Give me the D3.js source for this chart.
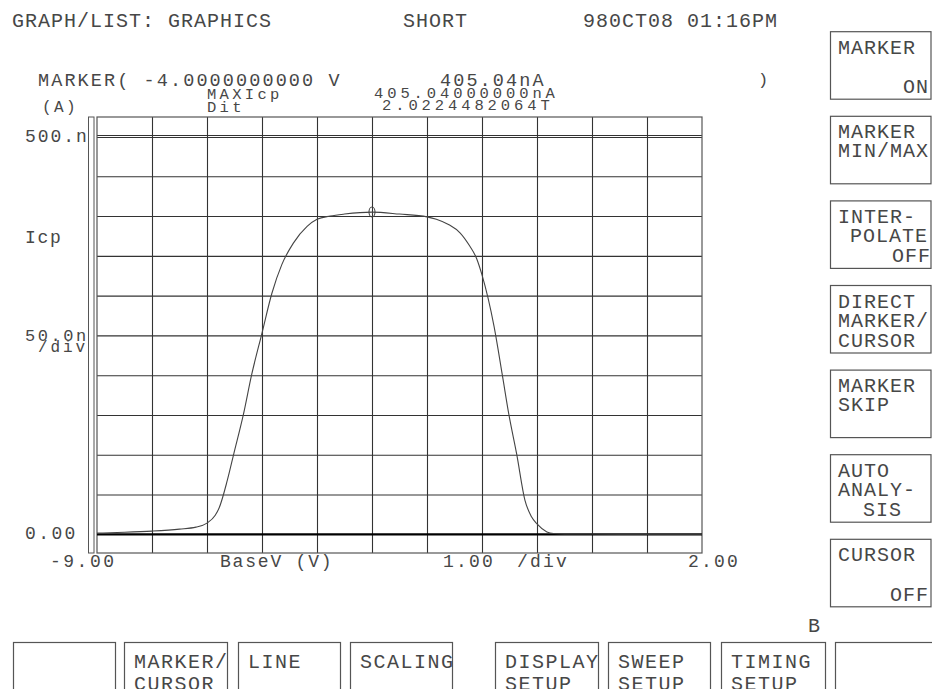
<!DOCTYPE html>
<html><head><meta charset="utf-8">
<script src="https://cdn.jsdelivr.net/npm/d3@7"></script>
<style>
body{margin:0;background:#fff}
svg{display:block}
text{font-family:"Liberation Mono","DejaVu Sans Mono",monospace;fill:#474747}
</style>
</head><body>
<svg id="c" width="932" height="689"></svg>
<script>
// ---- data ----
const baseV = [-9.0,-8.5,-8.0,-7.5,-7.2,-7.0,-6.85,-6.78,-6.63,-6.51,-6.34,-6.19,-6.0,-5.82,-5.64,-5.43,-5.18,-5.0,-4.76,-4.5,-4.0,-3.5,-3.0,-2.83,-2.6,-2.4,-2.22,-2.1,-2.0,-1.78,-1.63,-1.51,-1.37,-1.22,-1.1,-1.0,-0.82,-0.7,-0.5,0.0,1.0,2.0];
const icpNA = [1.5,2.5,4,6.5,9,14,24,33,68,102,150,200,253,303,339,366,387,396,400,402.5,405,402.5,399,396,389,379,362,347,326,261,200,150,101,43,22,13,3,1,0.5,0.3,0.2,0.2];
const markerV = -4.0, markerI = 405.04;
const yGridValues = [50,100,150,200,250,300,350,400,450];
const xGridValues = [-8,-7,-6,-5,-4,-3,-2,-1,0,1];
const headerTexts = ["GRAPH/LIST: GRAPHICS","SHORT","980CT08 01:16PM"];
const markerLines = ["MARKER( -4.0000000000 V","405.04nA",")","MAXIcp","405.04000000nA","Dit","2.0224482064T","(A)"];
const yAxisLabels = ["500.n","Icp","50.0n","/div","0.00"];
const xAxisLabels = ["-9.00","BaseV (V)","1.00","/div","2.00"];
const sideButtons = [["MARKER","","ON"],["MARKER","MIN/MAX",""],["INTER-","POLATE","OFF"],["DIRECT","MARKER/","CURSOR"],["MARKER","SKIP",""],["AUTO","ANALY-","SIS"],["CURSOR","","OFF"]];
const bottomButtons = [["",""],["MARKER/","CURSOR"],["LINE",""],["SCALING",""],["DISPLAY","SETUP"],["SWEEP","SETUP"],["TIMING","SETUP"],["",""]];

// ---- layout ----
const svg = d3.select("#c");
const L=97, R=702, T=117, B=553;
const x = d3.scaleLinear().domain([-9,2]).range([L,R]);
const y = d3.scaleLinear().domain([0,500]).range([534.3,136.5]);

function txt(str, px, py, size, adv, anchorEnd){
  const ls = adv - 0.6*size;
  let xx = px;
  if(anchorEnd){ xx = px - (str.length*adv - ls); }
  return svg.append("text").attr("x",xx).attr("y",py)
    .attr("font-size",size).attr("letter-spacing",ls)
    .attr("xml:space","preserve").text(str);
}

// outer thin rect left of plot
svg.append("rect").attr("x",88.5).attr("y",T).attr("width",5.5).attr("height",B-T)
  .attr("fill","none").attr("stroke","#555").attr("stroke-width",1);

// grid via axes
const gx = svg.append("g").attr("transform",`translate(0,${B})`)
  .call(d3.axisBottom(x).tickValues(xGridValues).tickSize(-(B-T)).tickFormat(""));
gx.select(".domain").remove();
gx.selectAll("line").attr("stroke","#333").attr("stroke-width",1.1);

const gy = svg.append("g").attr("transform",`translate(${L},0)`)
  .call(d3.axisLeft(y).tickValues(yGridValues).tickSize(-(R-L)).tickFormat(""));
gy.select(".domain").remove();
gy.selectAll("line").attr("stroke","#333").attr("stroke-width",1.1);

// double line at 500
[-1,1].forEach(d=>{
  svg.append("line").attr("x1",L).attr("x2",R).attr("y1",y(500)+d).attr("y2",y(500)+d)
    .attr("stroke","#333").attr("stroke-width",1);
});

// frame
svg.append("rect").attr("x",L).attr("y",T).attr("width",R-L).attr("height",B-T)
  .attr("fill","none").attr("stroke","#555").attr("stroke-width",1.2);

// zero line
svg.append("line").attr("x1",L).attr("x2",R).attr("y1",y(0)).attr("y2",y(0))
  .attr("stroke","#000").attr("stroke-width",2.2);

// curve
const pts = baseV.map((v,i)=>[v,icpNA[i]]);
svg.append("path").datum(pts)
  .attr("d",d3.line().x(d=>x(d[0])).y(d=>y(d[1])).curve(d3.curveMonotoneX))
  .attr("fill","none").attr("stroke","#444").attr("stroke-width",1.1);

// marker
svg.append("ellipse").attr("cx",x(markerV)).attr("cy",y(markerI)).attr("rx",3).attr("ry",5)
  .attr("fill","none").attr("stroke","#444").attr("stroke-width",1.1);

// header
txt(headerTexts[0],12,27,20,13);
txt(headerTexts[1],403,27,20,13);
txt(headerTexts[2],583,27,20,13);

// marker readout
txt(markerLines[0],38,86,18.5,13.2);
txt(markerLines[1],440,86,18.5,13.2);
txt(markerLines[2],758,85,17,13);
txt(markerLines[3],207,98.5,15.5,12.6);
txt(markerLines[4],374,98,15.5,13.2);
txt(markerLines[5],207,111.5,15.5,12.6);
txt(markerLines[6],382,110,15.5,13.2);
txt(markerLines[7],42,112,16,12);

// y-axis labels
txt(yAxisLabels[0],25,142,18,12.75);
txt(yAxisLabels[1],25,243,18,12.5);
txt(yAxisLabels[2],25,340.5,17,12.75);
txt(yAxisLabels[3],38,352,16,12.5);
txt(yAxisLabels[4],25,539,18,13.2);

// x-axis labels
txt(xAxisLabels[0],50,567,18,13.3);
txt(xAxisLabels[1],220,567,18,12.6);
txt(xAxisLabels[2],443,567,18,13);
txt(xAxisLabels[3],517,567,18,13);
txt(xAxisLabels[4],688,567,18,13);

// side buttons
const sbTop = 31.7, sbStep = 84.6, sbH = 67.5, sbL = 830.5, sbR = 931;
const lineOff = [22,41,61.5];
sideButtons.forEach((lines,i)=>{
  const t = sbTop + i*sbStep;
  svg.append("rect").attr("x",sbL).attr("y",t).attr("width",sbR-sbL).attr("height",sbH)
    .attr("fill","none").attr("stroke","#555").attr("stroke-width",1.2);
  lines.forEach((s,j)=>{
    if(!s) return;
    let xs = 838;
    if((i===0||i===6) && j===2) { txt(s,928,t+lineOff[j],20,13,true); return; }
    if(i===2 && j===1) xs = 850;
    if(i===2 && j===2) { txt(s,930,t+lineOff[j],20,13,true); return; }
    if(i===5 && j===2) xs = 863;
    txt(s,xs,t+lineOff[j],20,13);
  });
});

// bottom buttons
const bbEdges = [[13,115],[124,227],[238,340],[350,452],[495,598],[608,710],[721,825],[835,937]];
bottomButtons.forEach((lines,i)=>{
  const [a,b] = bbEdges[i];
  svg.append("rect").attr("x",a+0.5).attr("y",642.5).attr("width",b-a).attr("height",80)
    .attr("fill","none").attr("stroke","#555").attr("stroke-width",1.2);
  lines.forEach((s,j)=>{
    if(!s) return;
    txt(s,a+10,[668,690][j],20,13.5);
  });
});
txt("B",808,632,20,13);
</script>
</body></html>
